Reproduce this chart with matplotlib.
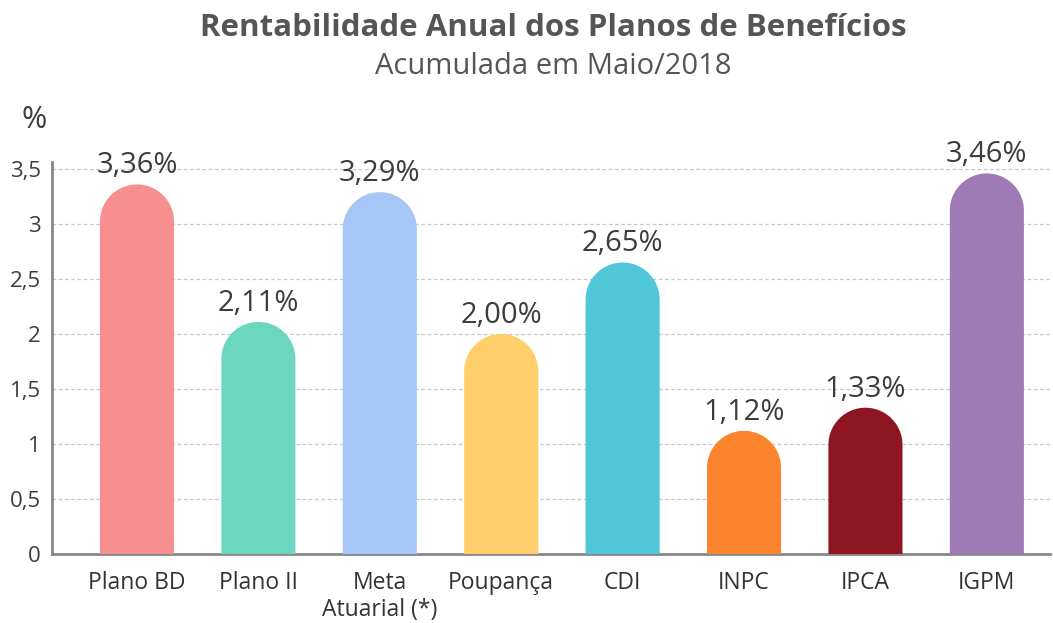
import numpy as np
import matplotlib.pyplot as plt
from matplotlib.patches import Polygon

# Dados
categorias = ['Plano BD', 'Plano II', 'Meta\nAtuarial (*)', 'Poupança', 'CDI', 'INPC', 'IPCA', 'IGPM']
valores = [3.36, 2.11, 3.29, 2.00, 2.65, 1.12, 1.33, 3.46]
rotulos = ['3,36%', '2,11%', '3,29%', '2,00%', '2,65%', '1,12%', '1,33%', '3,46%']
cores = ['#F78F91', '#6DD6BF', '#A5C6F6', '#FECF6B', '#50C6D8', '#FD842E', '#8D1622', '#9E7BB5']
yticks = [0, 0.5, 1, 1.5, 2, 2.5, 3, 3.5]
ytick_labels = ['0', '0,5', '1', '1,5', '2', '2,5', '3', '3,5']

plt.rcParams['font.family'] = ['Open Sans', 'DejaVu Sans']

W, H = 1053, 623
fig = plt.figure(figsize=(W / 100, H / 100), dpi=100)
ax = fig.add_axes([52 / W, (H - 554) / H, (1050 - 52) / W, (554 - 162) / H])

x = np.arange(len(categorias))
largura = 0.61
ax.set_xlim(-0.70, 7.52)
ax.set_ylim(0, 3.564)

# raio da ponta arredondada em unidades do eixo y
fig.canvas.draw()
p0 = ax.transData.transform((0, 0))
p1 = ax.transData.transform((largura, 1))
r_y = ((p1[0] - p0[0]) / 2) / (p1[1] - p0[1])
r_x = largura / 2

ang = np.linspace(0, np.pi, 60)
for xi, v, c, lab in zip(x, valores, cores, rotulos):
    yc = v - r_y
    arco = np.column_stack([xi + r_x * np.cos(ang), yc + r_y * np.sin(ang)])
    pts = np.vstack([[xi + r_x, 0], arco, [xi - r_x, 0]])
    ax.add_patch(Polygon(pts, closed=True, facecolor=c, edgecolor='none', zorder=3))
    ax.text(xi, v + 0.17, lab, ha='center', va='center', fontsize=21, color='#3d3d3d', zorder=4)

for yt in yticks[1:]:
    ax.axhline(yt, color='#c8c8c8', lw=0.9, ls=(0, (3, 2)), zorder=1)

ax.set_xticks(x)
ax.set_xticklabels(categorias, fontsize=16.5, color='#333333', linespacing=1.2)
ax.set_yticks(yticks)
ax.set_yticklabels(ytick_labels, fontsize=16, color='#3d3d3d')
ax.tick_params(axis='both', length=0)
ax.tick_params(axis='y', pad=8)
ax.tick_params(axis='x', pad=12)

for s in ['top', 'right']:
    ax.spines[s].set_visible(False)
for s in ['left', 'bottom']:
    ax.spines[s].set_color('#888888')
    ax.spines[s].set_linewidth(2)

fig.text(553 / W, 1 - 28 / H, 'Rentabilidade Anual dos Planos de Benefícios',
         ha='center', va='center', fontsize=22.5, fontweight='bold', color='#555555')
fig.text(553 / W, 1 - 67 / H, 'Acumulada em Maio/2018',
         ha='center', va='center', fontsize=21, color='#555555')
fig.text(34 / W, 1 - 120 / H, '%', ha='center', va='center', fontsize=22, color='#3d3d3d')

fig.savefig('out.png', dpi=100)
